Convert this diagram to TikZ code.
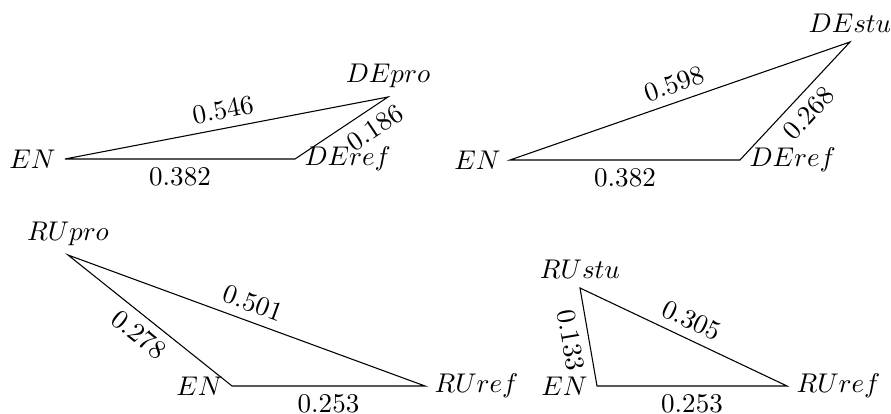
\documentclass[tikz,border=0pt]{standalone}
\usepackage{amsmath,amssymb}
\usepackage{tikz}
\usetikzlibrary{calc}

\begin{document}
\begin{tikzpicture}[x=0.013cm,y=0.013cm,line join=miter]
  \useasboundingbox (0,0) rectangle (891,414);
  % DE pro
  \coordinate[label=left:$EN$] (ena) at (65,255);
  \coordinate[label=right:$DEref$] (derefa) at (295,255);
  \coordinate[label=above:$DEpro$] (depro) at (388,317);
  \draw (ena) -- node[below] (da) {$0.382$} (derefa)
        -- node[sloped,below,pos=0.75] (db) {$0.186$} (depro)
        -- node[sloped,above] (dc) {$0.546$} cycle;
  % DE stu
  \coordinate[label=left:$EN$] (enb) at (510,254);
  \coordinate[label=right:$DEref$] (derefb) at (740,254);
  \coordinate[label=above:$DEstu$] (destu) at (850,372);
  \draw (enb) -- node[below] (dd) {$0.382$} (derefb)
        -- node[sloped,below] (de) {$0.268$} (destu)
        -- node[sloped,above] (df) {$0.598$} cycle;
  % RU pro
  \coordinate[label=above:$RUpro$] (rupro) at (68,159);
  \coordinate[label=left:$EN$] (enc) at (232,28);
  \coordinate[label=right:$RUref$] (rurefc) at (425,28);
  \draw (rupro) -- node[sloped,below] (ra) {$0.278$} (enc)
        -- node[below] (rb) {$0.253$} (rurefc)
        -- node[sloped,above] (rc) {$0.501$} cycle;
  % RU stu
  \coordinate[label=above:$RUstu$] (rustu) at (580,126);
  \coordinate[label=left:$EN$] (end) at (597,28);
  \coordinate[label=right:$RUref$] (rurefd) at (787,28);
  \draw (rustu) -- node[sloped,below] (rd) {$0.133$} (end)
        -- node[below] (re) {$0.253$} (rurefd)
        -- node[sloped,above] (rf) {$0.305$} cycle;
\end{tikzpicture}
\end{document}
